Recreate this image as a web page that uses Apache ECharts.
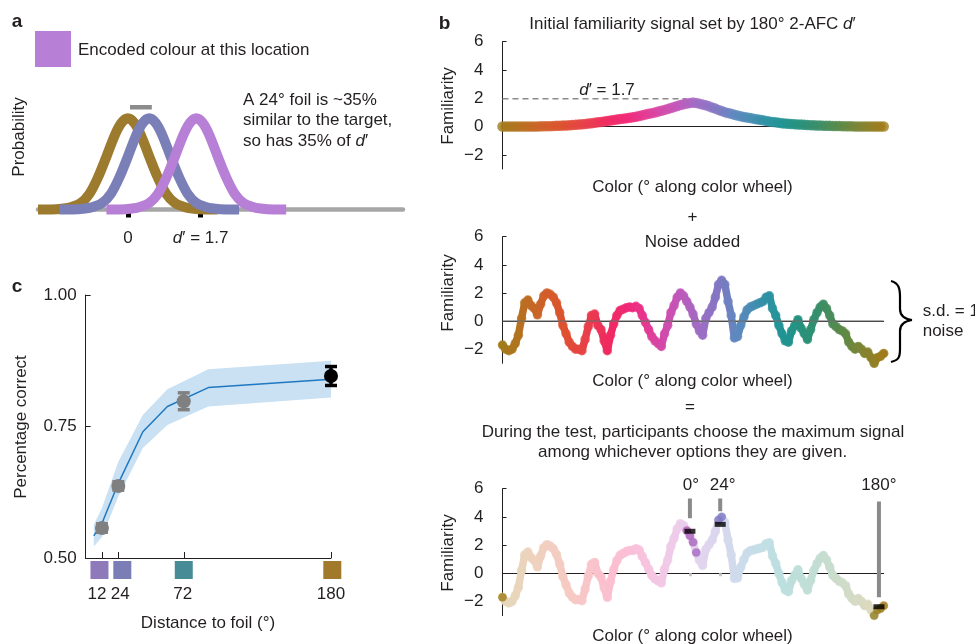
<!DOCTYPE html>
<html>
<head>
<meta charset="utf-8">
<title>Familiarity signal model</title>
<script src="https://cdn.jsdelivr.net/npm/echarts@6/dist/echarts.min.js"></script>
<style>
  html, body { margin: 0; padding: 0; background: #fff; }
  #chart { width: 975px; height: 644px; }
</style>
</head>
<body>
<div id="chart"></div>
<script>
// ---------- data: panel a (signal detection curves, d' units) ----------
const bellOffset = [-2.1, -1.8, -1.5, -1.3, -1.1, -0.9, -0.7, -0.5, -0.3, -0.15, 0, 0.15, 0.3, 0.5, 0.7, 0.9, 1.1, 1.3, 1.5, 1.8, 2.1];
const bellHeight = [0, 0, 0.01, 0.03, 0.07, 0.17, 0.35, 0.58, 0.82, 0.95, 1, 0.95, 0.82, 0.58, 0.35, 0.17, 0.07, 0.03, 0.01, 0, 0];
const curveCenters = [0, 0.5, 1.6];          // 180° foil, 24° foil, target
const curveColors = ['#9c7a2e', '#7a7fb8', '#b77fd6'];
const axisMarks = [0, 1.7];
const shiftBar = [[0.05, 1.12], [0.56, 1.12]];

// ---------- data: panel b (familiarity along the colour wheel, every 3°) ----------
const degStep = 3;
const signal = [
  0, 0, 0, 0, 0, 0, 0, 0, 0.01, 0.01,                          // 0-27
  0.01, 0.01, 0.02, 0.02, 0.03, 0.03, 0.04, 0.05, 0.06, 0.07,  // 30-57
  0.08, 0.095, 0.11, 0.125, 0.14, 0.16, 0.18, 0.21, 0.24, 0.27,// 60-87
  0.30, 0.33, 0.36, 0.40, 0.43, 0.47, 0.50, 0.53, 0.56, 0.59,  // 90-117
  0.62, 0.66, 0.70, 0.75, 0.80, 0.85, 0.90, 0.95, 1.00, 1.06,  // 120-147
  1.12, 1.18, 1.24, 1.31, 1.38, 1.45, 1.52, 1.58, 1.63, 1.67,  // 150-177
  1.70, 1.67, 1.62, 1.56, 1.50, 1.43, 1.35, 1.27, 1.18, 1.10,  // 180-207
  1.02, 0.96, 0.90, 0.84, 0.78, 0.73, 0.68, 0.64, 0.60, 0.56,  // 210-237
  0.52, 0.48, 0.44, 0.40, 0.36, 0.33, 0.30, 0.27, 0.24, 0.22,  // 240-267
  0.20, 0.18, 0.17, 0.15, 0.14, 0.12, 0.11, 0.10, 0.09, 0.08,  // 270-297
  0.07, 0.065, 0.06, 0.05, 0.045, 0.04, 0.035, 0.03, 0.025, 0.02, // 300-327
  0.015, 0.01, 0.01, 0.005, 0, 0, 0, 0, 0, 0,                  // 330-357
  0                                                            // 360
];
const noise = [
  -1.7, -2.0, -2.1, -2.0, -1.6, -1.0, 0.2, 1.3, 1.5, 1.1,      // 0-27
  0.9, 0.45, 1.2, 1.8, 2.0, 1.9, 1.7, 1.3, 0.6, -0.3,          // 30-57
  -0.9, -1.5, -1.8, -2.0, -2.0, -2.1, -1.3, -0.4, 0.4, 0.5,    // 60-87
  -0.3, -0.6, -1.4, -2.1, -1.0, -0.2, 0.4, 0.75, 0.85, 0.95,   // 90-117
  1.0, 0.95, 1.05, 0.9, 0.4, -0.1, -0.6, -1.1, -1.4, -1.6,     // 120-147
  -1.8, -0.9, -0.3, 0.6, 1.1, 1.7, 2.0, 1.8, 1.4, 1.0,         // 150-177
  0.5, -0.2, -0.7, -1.0, 0.2, 0.6, 1.0, 1.7, 2.6, 2.9,         // 180-207
  2.6, 1.4, 0.4, -1.2, -1.1, -0.3, 0.3, 0.8, 1.0, 1.1,         // 210-237
  1.2, 1.3, 1.4, 1.7, 1.8, 0.9, 0.4, -0.3, -0.9, -1.4,         // 240-267
  -1.5, -0.7, -0.3, 0.1, -0.5, -0.9, -1.3, -0.6, 0.1, 0.6,     // 270-297
  1.0, 1.2, 0.9, 0.4, -0.2, -0.4, -0.6, -0.7, -0.9, -1.5,      // 300-327
  -1.8, -2.0, -1.8, -2.0, -2.3, -2.2, -2.6, -3.0, -2.6, -2.5,  // 330-357
  -2.3                                                         // 360
];
const dPrimeLine = [[0, 1.97], [174, 1.97]];
const foilDeg = [177, 205.6, 355.5];
const foilLabels = ['0°', '24°', '180°'];
const foilLabelShift = [1, 2.5, 0];
const foilMax = [2.98, 3.47, -2.37];
const foilBarTop = [5.3, 5.3, 5.1];
const foilBarBottom = [3.9, 4.4, -1.7];
const highlightRanges = [[172, 184], [202, 209], [350, 360], [0, 1]];
const hueStops = [
  [0, '#a07c1a'], [20, '#b87020'], [40, '#d0602a'], [60, '#de5030'], [80, '#e8404a'],
  [100, '#f02a60'], [120, '#f02878'], [135, '#e53890'], [150, '#d448a8'], [165, '#c455b8'],
  [185, '#a06cc4'], [205, '#8078c2'], [220, '#6088c0'], [235, '#4a8cb4'], [250, '#2e92a4'],
  [265, '#209494'], [280, '#25927f'], [300, '#3a8e68'], [320, '#5a8a48'], [340, '#808433'],
  [360, '#a07c1a']
];

// ---------- data: panel c (accuracy vs foil distance) ----------
const modelDeg = [6, 12, 24, 42, 60, 90, 180];
const modelMean = [0.542, 0.566, 0.642, 0.740, 0.788, 0.824, 0.840];
const modelLower = [0.522, 0.540, 0.617, 0.709, 0.753, 0.788, 0.805];
const modelUpper = [0.563, 0.595, 0.683, 0.772, 0.821, 0.859, 0.875];
const obsDeg = [12, 24, 72, 180];
const obsMean = [0.557, 0.637, 0.798, 0.846];
const obsErr = [0.008, 0.008, 0.016, 0.018];
const obsColors = ['#808080', '#808080', '#808080', '#000000'];
const foilSwatches = ['#8e79bb', '#7a7eb5', '#478b97', '#a0792b'];

// ---------- helpers ----------
const FONT = '"Liberation Sans", Arial, Helvetica, sans-serif';
const INK = '#231f20';
const FADE = 0.3;

function hexToRgb(h) {
  return [parseInt(h.slice(1, 3), 16), parseInt(h.slice(3, 5), 16), parseInt(h.slice(5, 7), 16)];
}
function rgbStr(rgb, fade) {
  if (fade) rgb = rgb.map(v => v * fade + 255 * (1 - fade));
  return 'rgb(' + rgb.map(Math.round).join(',') + ')';
}
// colour of a point on the colour wheel, optionally washed out towards white
function hueColor(deg, fade) {
  let i = 0;
  while (i < hueStops.length - 2 && deg > hueStops[i + 1][0]) i++;
  const d0 = hueStops[i][0], d1 = hueStops[i + 1][0];
  const t = Math.min(1, Math.max(0, (deg - d0) / (d1 - d0)));
  const a = hexToRgb(hueStops[i][1]), b = hexToRgb(hueStops[i + 1][1]);
  return rgbStr(a.map((v, k) => v + (b[k] - v) * t), fade);
}
// the same colour wheel as a horizontal gradient across the 0-360° axis
function hueGradient(fade) {
  return {
    type: 'linear', x: 0, y: 0, x2: 1, y2: 0,
    colorStops: hueStops.map(s => ({ offset: s[0] / 360, color: rgbStr(hexToRgb(s[1]), fade) }))
  };
}
function inHighlight(deg) {
  return highlightRanges.some(r => deg >= r[0] && deg <= r[1]);
}
function minus(v) {
  return v < 0 ? '\u2212' + Math.abs(v) : String(v);
}
function text(str, x, y, style, extra) {
  return Object.assign({
    type: 'text', x: x, y: y, silent: true,
    style: Object.assign({
      text: str, fill: INK, fontSize: 17, fontFamily: FONT,
      align: 'center', verticalAlign: 'middle'
    }, style || {})
  }, extra || {});
}
const RICH = {
  n: { fontSize: 17, fontFamily: FONT, fill: INK },
  i: { fontSize: 17, fontFamily: FONT, fill: INK, fontStyle: 'italic' }
};

// ---------- axes ----------
function bXAxis(gridIndex, ticks) {
  return {
    gridIndex: gridIndex, type: 'value', min: 0, max: 360,
    axisLine: { lineStyle: { color: INK, width: 1 } },
    axisTick: ticks ? { show: true, customValues: ticks, inside: false, length: 3, lineStyle: { color: '#c8c8c8', width: 3 } } : { show: false },
    axisLabel: { show: false },
    splitLine: { show: false }
  };
}
function bYAxis(gridIndex) {
  const vals = [-2, 0, 2, 4, 6];
  return {
    gridIndex: gridIndex, type: 'value', min: -3, max: 6,
    axisLine: { show: true, lineStyle: { color: INK, width: 1 } },
    axisTick: { show: true, inside: true, length: 4, customValues: vals, lineStyle: { color: INK } },
    axisLabel: { customValues: vals, margin: 19, fontSize: 17, color: INK, fontFamily: FONT, formatter: minus },
    splitLine: { show: false }
  };
}

const xAxes = [
  {
    gridIndex: 0, type: 'value', min: -2.1, max: 6.43,
    axisLine: { lineStyle: { color: '#a6a6a6', width: 4.5 } },
    axisTick: { show: true, inside: false, length: 8, customValues: axisMarks, lineStyle: { color: '#000', width: 5 } },
    axisLabel: {
      customValues: axisMarks, margin: 16, fontSize: 17, color: INK, fontFamily: FONT,
      formatter: v => v === 0 ? '{n|0}' : '{i|d}{n|\u2032 = 1.7}',
      rich: RICH
    },
    splitLine: { show: false }
  },
  bXAxis(1), bXAxis(2), bXAxis(3, [foilDeg[0], foilDeg[1]]),
  {
    gridIndex: 4, type: 'value', min: 0, max: 180,
    axisLine: { lineStyle: { color: INK, width: 1 } },
    axisTick: { show: true, inside: true, length: 6, customValues: obsDeg, lineStyle: { color: INK } },
    axisLabel: {
      customValues: obsDeg, margin: 28, fontSize: 17, color: INK, fontFamily: FONT,
      formatter: v => '{s' + obsDeg.indexOf(v) + '|' + v + '}',
      rich: {
        s0: { fontSize: 17, fontFamily: FONT, color: INK, padding: [0, 10, 0, 0] },
        s1: { fontSize: 17, fontFamily: FONT, color: INK, padding: [0, 0, 0, 4] },
        s2: { fontSize: 17, fontFamily: FONT, color: INK, padding: [0, 2, 0, 0] },
        s3: { fontSize: 17, fontFamily: FONT, color: INK }
      }
    },
    splitLine: { show: false }
  }
];
const yAxes = [
  { gridIndex: 0, type: 'value', min: -0.05, max: 1.2, show: false },
  bYAxis(1), bYAxis(2), bYAxis(3),
  {
    gridIndex: 4, type: 'value', min: 0.5, max: 1, interval: 0.25,
    axisLine: { show: true, lineStyle: { color: INK, width: 1 } },
    axisTick: { show: true, inside: true, length: 5, lineStyle: { color: INK } },
    axisLabel: { margin: 9, fontSize: 17, color: INK, fontFamily: FONT, formatter: v => v.toFixed(2) },
    splitLine: { show: false }
  }
];

// ---------- series ----------
const series = [];

// panel a: three bells on a grey baseline
curveCenters.forEach((c, k) => {
  series.push({
    type: 'line', xAxisIndex: 0, yAxisIndex: 0, smooth: 0.35, symbol: 'none', silent: true, z: 2 + k,
    data: bellOffset.map((o, i) => [c + o, bellHeight[i]]),
    lineStyle: { color: curveColors[k], width: 10 }
  });
});
series.push({
  type: 'line', xAxisIndex: 0, yAxisIndex: 0, symbol: 'none', silent: true, z: 5,
  data: shiftBar, lineStyle: { color: '#8c8c8c', width: 4.5 }
});

// panel b top: initial signal
series.push({
  type: 'line', xAxisIndex: 1, yAxisIndex: 1, symbol: 'none', silent: true, z: 2,
  data: dPrimeLine, lineStyle: { color: '#8a8a8a', width: 1.5, type: [6, 4] }
});
series.push({
  type: 'scatter', xAxisIndex: 1, yAxisIndex: 1, symbolSize: 10.5, clip: false, silent: true, z: 3,
  data: signal.map((v, i) => ({ value: [i * degStep, v], itemStyle: { color: hueColor(i * degStep) } }))
});

// panel b middle: noise (worm of dots joined by a thick gradient stroke)
series.push({
  type: 'line', xAxisIndex: 2, yAxisIndex: 2, symbol: 'none', silent: true, clip: false, z: 2,
  data: noise.map((v, i) => [i * degStep, v]),
  lineStyle: { color: hueGradient(), width: 7.5, cap: 'round', join: 'round' }
});
series.push({
  type: 'scatter', xAxisIndex: 2, yAxisIndex: 2, symbolSize: 9.5, clip: false, silent: true, z: 3,
  data: noise.map((v, i) => ({ value: [i * degStep, v], itemStyle: { color: hueColor(i * degStep) } }))
});
series.push({
  type: 'line', xAxisIndex: 2, yAxisIndex: 2, symbol: 'none', silent: true, z: 4,
  data: [[0, 0], [360, 0]], lineStyle: { color: 'rgba(110,110,110,0.75)', width: 1.5 }
});

// panel b bottom: signal + noise, the offered options highlighted
const summed = noise.map((v, i) => ({ deg: i * degStep, v: +(v + signal[i]).toFixed(3) }));
series.push({
  type: 'line', xAxisIndex: 3, yAxisIndex: 3, symbol: 'none', silent: true, clip: false, z: 2,
  data: summed.map(p => [p.deg, p.v]),
  lineStyle: { color: hueGradient(FADE), width: 7.5, cap: 'round', join: 'round' }
});
series.push({
  type: 'scatter', xAxisIndex: 3, yAxisIndex: 3, symbolSize: 9.5, clip: false, silent: true, z: 3,
  data: summed.map(p => ({ value: [p.deg, p.v], itemStyle: { color: hueColor(p.deg, FADE) } }))
});
series.push({
  type: 'scatter', xAxisIndex: 3, yAxisIndex: 3, symbolSize: 8.5, clip: false, silent: true, z: 4,
  data: summed.filter(p => inHighlight(p.deg)).map(p => ({ value: [p.deg, p.v], itemStyle: { color: hueColor(p.deg) } }))
});
foilDeg.forEach((d, k) => {
  series.push({
    type: 'line', xAxisIndex: 3, yAxisIndex: 3, symbol: 'none', silent: true, z: 5,
    data: [[d, foilBarTop[k]], [d, foilBarBottom[k]]],
    lineStyle: { color: '#8a8a8a', width: 4 }
  });
});
series.push({
  type: 'scatter', xAxisIndex: 3, yAxisIndex: 3, symbol: 'rect', symbolSize: [11, 5], clip: false, silent: true, z: 6,
  itemStyle: { color: '#000' },
  data: foilDeg.map((d, k) => [d, foilMax[k]])
});
series.push({
  type: 'custom', xAxisIndex: 3, yAxisIndex: 3, silent: true, z: 6,
  data: foilDeg.map((d, k) => [d, 6.26, k]),
  renderItem: function (params, api) {
    const p = api.coord([api.value(0), api.value(1)]);
    const k = api.value(2);
    return {
      type: 'text', x: p[0] + foilLabelShift[k], y: p[1],
      style: { text: foilLabels[k], fill: INK, fontSize: 17, fontFamily: FONT, align: 'center', verticalAlign: 'middle' }
    };
  }
});

// panel c: model band, model line, observed points
series.push({
  type: 'custom', xAxisIndex: 4, yAxisIndex: 4, silent: true, data: [0], z: 1,
  renderItem: function (params, api) {
    const up = modelDeg.map((d, i) => api.coord([d, modelUpper[i]]));
    const lo = modelDeg.map((d, i) => api.coord([d, modelLower[i]])).reverse();
    return { type: 'polygon', shape: { points: up.concat(lo) }, style: { fill: '#c9e1f2' } };
  }
});
series.push({
  type: 'line', xAxisIndex: 4, yAxisIndex: 4, symbol: 'none', silent: true, z: 2,
  data: modelDeg.map((d, i) => [d, modelMean[i]]),
  lineStyle: { color: '#1f78c1', width: 1.5 }
});
series.push({
  type: 'custom', xAxisIndex: 4, yAxisIndex: 4, silent: true, z: 3,
  data: obsDeg.map((d, i) => ({ value: [d, obsMean[i], obsErr[i]], itemStyle: { color: obsColors[i] } })),
  renderItem: function (params, api) {
    const x = api.value(0), m = api.value(1), e = api.value(2);
    const top = api.coord([x, m + e]), bot = api.coord([x, m - e]);
    const st = { stroke: api.visual('color'), lineWidth: 3.5 };
    return {
      type: 'group', children: [
        { type: 'line', shape: { x1: top[0], y1: top[1], x2: bot[0], y2: bot[1] }, style: st },
        { type: 'line', shape: { x1: top[0] - 6, y1: top[1], x2: top[0] + 6, y2: top[1] }, style: st },
        { type: 'line', shape: { x1: bot[0] - 6, y1: bot[1], x2: bot[0] + 6, y2: bot[1] }, style: st }
      ]
    };
  }
});
series.push({
  type: 'scatter', xAxisIndex: 4, yAxisIndex: 4, symbolSize: 14, silent: true, z: 4,
  data: obsDeg.map((d, i) => ({ value: [d, obsMean[i]], itemStyle: { color: obsColors[i], opacity: 1 } }))
});
series.push({
  type: 'scatter', xAxisIndex: 4, yAxisIndex: 4, symbol: 'rect', symbolSize: 18, clip: false, silent: true, z: 4,
  data: obsDeg.map((d, i) => ({
    value: [d, 0.5], itemStyle: { color: foilSwatches[i], opacity: 1 },
    symbolOffset: [[-2.5, 12], [4, 12], [0, 12], [1.3, 12]][i]
  }))
});

// ---------- annotations ----------
const bold = { fontWeight: 'bold', fontSize: 19 };
const left = { align: 'left' };
const braceStyle = { stroke: '#000', lineWidth: 2.2, fill: null };
function bez(x1, y1, c1x, c1y, c2x, c2y, x2, y2) {
  return { type: 'bezierCurve', silent: true, shape: { x1: x1, y1: y1, cpx1: c1x, cpy1: c1y, cpx2: c2x, cpy2: c2y, x2: x2, y2: y2 }, style: braceStyle };
}
function seg(x1, y1, x2, y2) {
  return { type: 'line', silent: true, shape: { x1: x1, y1: y1, x2: x2, y2: y2 }, style: braceStyle };
}
const graphics = [
  text('a', 17, 22, bold),
  text('b', 444.5, 23.5, bold),
  text('c', 17, 286.5, bold),
  { type: 'rect', silent: true, shape: { x: 35, y: 31, width: 36, height: 36 }, style: { fill: '#b77fd6' } },
  text('Encoded colour at this location', 78, 50, left),
  text('A 24° foil is ~35%', 243, 100, left),
  text('similar to the target,', 243, 120.5, left),
  text('{n|so has 35% of }{i|d}{n|\u2032}', 243, 141, { align: 'left', rich: RICH }),
  text('Probability', 19.5, 137, null, { rotation: Math.PI / 2 }),

  text('{n|Initial familiarity signal set by 180° 2-AFC }{i|d}{n|\u2032}', 692.5, 24, { rich: RICH }),
  text('{i|d}{n|\u2032 = 1.7}', 607, 90, { rich: RICH }),
  text('Familiarity', 448.3, 106, null, { rotation: Math.PI / 2 }),
  text('Color (° along color wheel)', 692.5, 187.3),

  text('+', 692.5, 217),
  text('Noise added', 692.5, 242.3),
  text('Familiarity', 448.3, 293, null, { rotation: Math.PI / 2 }),
  text('Color (° along color wheel)', 692.5, 381.7),
  bez(891, 281, 899, 283, 900, 289, 900, 297),
  seg(900, 297, 900, 309),
  bez(900, 309, 900, 316, 905, 319, 912, 320),
  bez(912, 320, 905, 321, 900, 324, 900, 331),
  seg(900, 331, 900, 349),
  bez(900, 349, 900, 357, 899, 360, 891, 362),
  text('s.d. = 1', 922.7, 311.7, left),
  text('noise', 922.7, 331.7, left),

  text('=', 690, 407.3),
  text('During the test, participants choose the maximum signal', 693, 432.3),
  text('among whichever options they are given.', 692.6, 452.3),
  text('Familiarity', 448.3, 553, null, { rotation: Math.PI / 2 }),
  text('Color (° along color wheel)', 692.5, 636),

  text('Percentage correct', 21, 427, null, { rotation: Math.PI / 2 }),
  text('Distance to foil (°)', 208, 623)
];

const chart = echarts.init(document.getElementById('chart'), null, { renderer: 'canvas' });
chart.setOption({
  animation: false,
  backgroundColor: '#fff',
  textStyle: { fontFamily: FONT, color: INK },
  grid: [
    { left: 38, right: 572, top: 100, bottom: 430, outerBoundsMode: 'none' },
    { left: 502.5, right: 91.3, top: 41.7, bottom: 475, outerBoundsMode: 'none' },
    { left: 502.5, right: 91.3, top: 236.7, bottom: 280.7, outerBoundsMode: 'none' },
    { left: 502.5, right: 91.3, top: 488.7, bottom: 28.4, outerBoundsMode: 'none' },
    { left: 85.6, right: 644, top: 295, bottom: 86, outerBoundsMode: 'none' }
  ],
  xAxis: xAxes,
  yAxis: yAxes,
  series: series,
  graphic: graphics
});
</script>
</body>
</html>
